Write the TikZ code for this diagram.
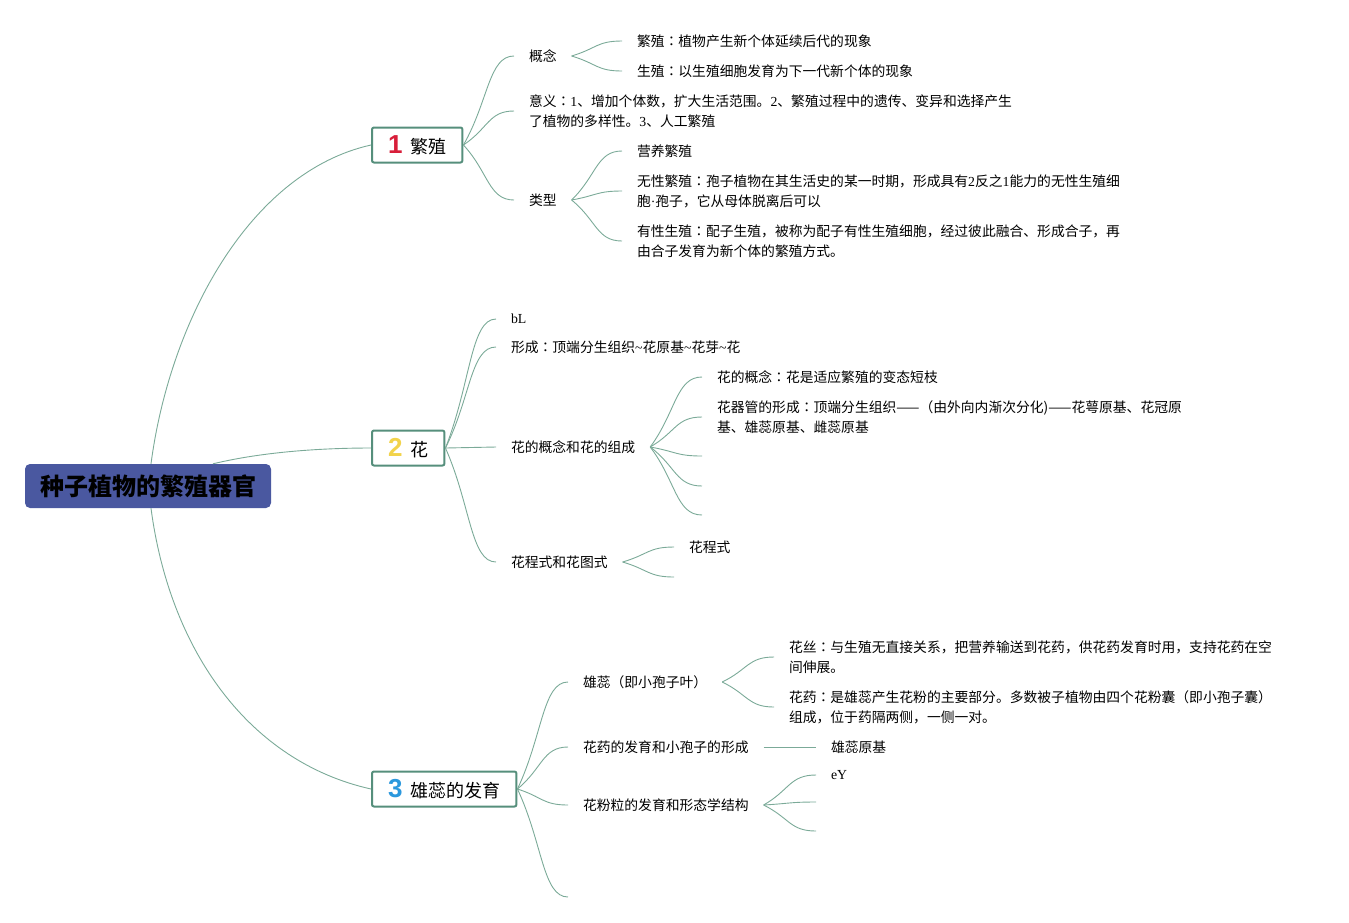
\documentclass[tikz,border=0pt]{standalone}
\usepackage{fontspec}
\setmainfont{Noto Sans CJK SC}
\newfontfamily\latinserif{Liberation Serif}
\newfontfamily\digitfont{Liberation Sans}
\newfontfamily\tcfont{Noto Sans CJK TC}
\usetikzlibrary{calc}

\definecolor{rootblue}{HTML}{4A58A0}
\definecolor{boxgreen}{HTML}{568F7C}
\definecolor{linkgreen}{HTML}{7BAA98}
\definecolor{numred}{HTML}{D81E3A}
\definecolor{numyellow}{HTML}{F2D34B}
\definecolor{numblue}{HTML}{2B98DD}

% number in front of a topic
\newcommand{\topicnum}[2]{{\digitfont\bfseries\fontsize{26}{26}\selectfont\textcolor{#1}{#2}}\hspace{8pt}}
% centred full-width colon
\newcommand{\zhcolon}{{\tcfont ：}}
% curved branch between two points
\newcommand{\fanlink}[2]{\draw[link] (#1) .. controls ($(#1)!0.5!(#2)$) and ($(#1 |- #2)!0.5!(#2)$) .. (#2);}

\begin{document}
\begin{tikzpicture}[
    x=1pt, y=-1pt,
    rootbox/.style={
        fill=rootblue,
        rounded corners=5pt,
        minimum width=246pt,
        minimum height=44pt,
        inner sep=0pt,
        font=\fontsize{24}{28}\selectfont\bfseries
    },
    topic/.style={
        draw=boxgreen,
        line width=2pt,
        fill=white,
        rounded corners=2pt,
        anchor=west,
        minimum height=35pt,
        inner xsep=16pt,
        font=\fontsize{18}{20}\selectfont
    },
    txt/.style={
        anchor=west,
        inner xsep=0pt,
        inner ysep=2pt,
        outer xsep=15pt,
        align=left,
        font=\fontsize{13.8}{20}\selectfont
    },
    link/.style={draw=linkgreen, line width=0.9pt}
]
    \useasboundingbox (0,0) rectangle (1349,922);

    \node[rootbox] (root) at (148,486) {种子植物的繁殖器官};

    \node[topic] (b1) at (371,145) {\topicnum{numred}{1}繁殖};
    \node[topic] (b2) at (371,448) {\topicnum{numyellow}{2}花};
    \node[topic] (b3) at (371,789) {\topicnum{numblue}{3}雄蕊的发育};

    \draw[link] ([xshift=3pt]root.north) .. controls (170,320) and (250,172) .. (b1.west);
    \draw[link] ([xshift=65pt]root.north) .. controls (262,452) and (320,448) .. (b2.west);
    \draw[link] ([xshift=3pt]root.south) .. controls (170,652) and (250,762) .. (b3.west);

    % 繁殖
    \node[txt] (gainian) at (514,56) {概念};
    \node[txt] (yiyi) at (514,111) {意义\zhcolon{\latinserif 1}、增加个体数，扩大生活范围。{\latinserif 2}、繁殖过程中的遗传、变异和选择产生\\了植物的多样性。{\latinserif 3}、人工繁殖};
    \node[txt] (leixing) at (514,200) {类型};
    \node[txt] (fanzhi) at (622,41) {繁殖\zhcolon 植物产生新个体延续后代的现象};
    \node[txt] (shengzhi) at (622,71) {生殖\zhcolon 以生殖细胞发育为下一代新个体的现象};
    \node[txt] (yingyang) at (622,151) {营养繁殖};
    \node[txt] (wuxing) at (622,191) {无性繁殖\zhcolon 孢子植物在其生活史的某一时期，形成具有{\latinserif 2}反之{\latinserif 1}能力的无性生殖细\\胞{\latinserif ·}孢子，它从母体脱离后可以};
    \node[txt] (youxing) at (622,241) {有性生殖\zhcolon 配子生殖，被称为配子有性生殖细胞，经过彼此融合、形成合子，再\\由合子发育为新个体的繁殖方式。};

    \foreach \t in {gainian,yiyi,leixing} {\fanlink{b1.east}{\t.west}}
    \foreach \t in {fanzhi,shengzhi} {\fanlink{gainian.east}{\t.west}}
    \foreach \t in {yingyang,wuxing,youxing} {\fanlink{leixing.east}{\t.west}}

    % 花
    \node[txt] (bl) at (496,319) {\latinserif bL};
    \node[txt] (xingcheng) at (496,347) {形成\zhcolon 顶端分生组织{\latinserif\textasciitilde}花原基{\latinserif\textasciitilde}花芽{\latinserif\textasciitilde}花};
    \node[txt] (zucheng) at (496,447) {花的概念和花的组成};
    \node[txt] (huachengshi) at (496,562) {花程式和花图式};
    \node[txt] (huagainian) at (702,377) {花的概念\zhcolon 花是适应繁殖的变态短枝};
    \node[txt] (qiguan) at (702,417) {花器管的形成\zhcolon 顶端分生组织——（由外向内渐次分化)——花萼原基、花冠原\\基、雄蕊原基、雌蕊原基};
    \coordinate (zucheng3) at (702,456);
    \coordinate (zucheng4) at (702,486);
    \coordinate (zucheng5) at (702,515);
    \node[txt] (huachengshi1) at (674,547) {花程式};
    \coordinate (huachengshi2) at (674,577);

    \foreach \t in {bl,xingcheng,zucheng,huachengshi} {\fanlink{b2.east}{\t.west}}
    \foreach \t in {huagainian.west,qiguan.west,zucheng3,zucheng4,zucheng5} {\fanlink{zucheng.east}{\t}}
    \foreach \t in {huachengshi1.west,huachengshi2} {\fanlink{huachengshi.east}{\t}}

    % 雄蕊的发育
    \node[txt] (xiongrui) at (568,682) {雄蕊（即小孢子叶）};
    \node[txt] (huayao) at (568,747) {花药的发育和小孢子的形成};
    \node[txt] (huafen) at (568,805) {花粉粒的发育和形态学结构};
    \coordinate (b3end) at (568,897);
    \node[txt] (huasi) at (774,657) {花丝\zhcolon 与生殖无直接关系，把营养输送到花药，供花药发育时用，支持花药在空\\间伸展。};
    \node[txt] (yaobu) at (774,707) {花药\zhcolon 是雄蕊产生花粉的主要部分。多数被子植物由四个花粉囊（即小孢子囊）\\组成，位于药隔两侧，一侧一对。};
    \node[txt] (yuanji) at (816,747) {雄蕊原基};
    \node[txt] (ey) at (816,775) {\latinserif eY};
    \coordinate (huafen2) at (816,802);
    \coordinate (huafen3) at (816,831);

    \foreach \t in {xiongrui.west,huayao.west,huafen.west,b3end} {\fanlink{b3.east}{\t}}
    \foreach \t in {huasi,yaobu} {\fanlink{xiongrui.east}{\t.west}}
    \fanlink{huayao.east}{yuanji.west}
    \foreach \t in {ey.west,huafen2,huafen3} {\fanlink{huafen.east}{\t}}
\end{tikzpicture}
\end{document}
